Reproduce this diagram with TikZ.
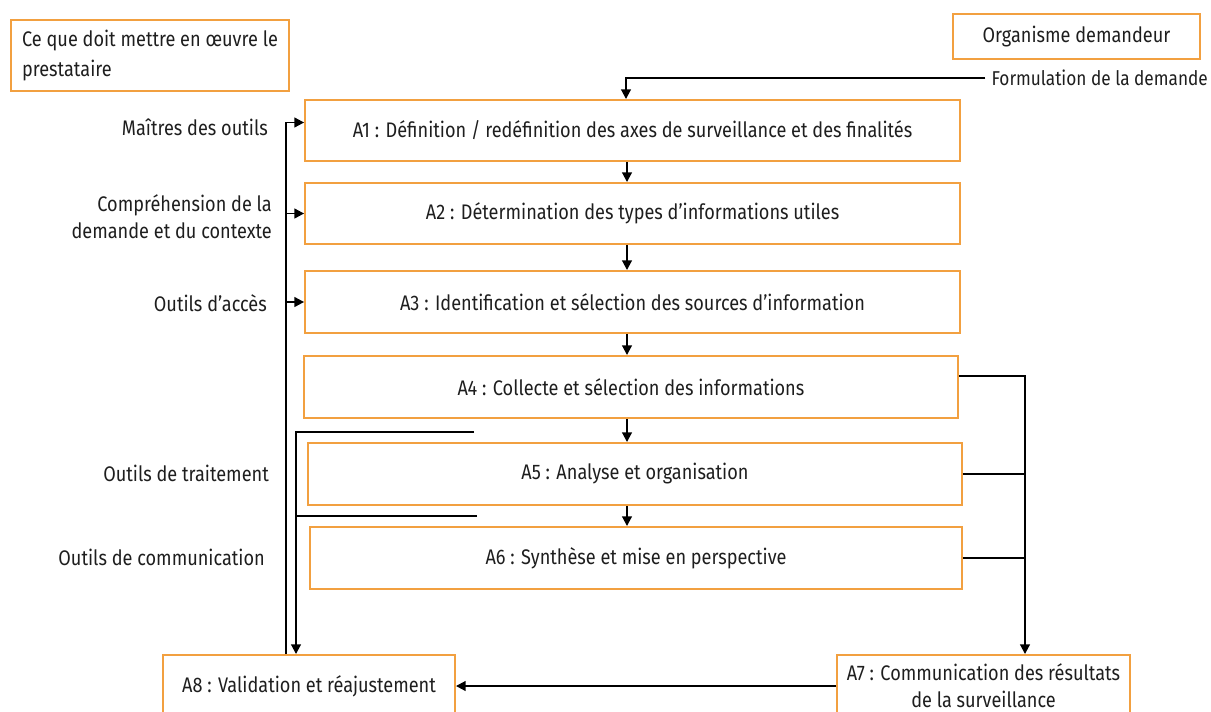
\documentclass[tikz,border=0pt]{standalone}
\usepackage{fontspec}
\setmainfont[FakeStretch=0.86]{Fira Sans}
\usetikzlibrary{calc,arrows.meta}
\definecolor{boxorange}{RGB}{242,160,64}
\definecolor{txtgray}{RGB}{30,30,30}

\begin{document}
\begin{tikzpicture}[x=0.02cm,y=-0.02cm,
    box/.style={draw=boxorange,line width=1.1pt,minimum height=1.22cm,inner sep=0pt,
      text=txtgray,font=\fontsize{12}{15.3}\selectfont},
    lbl/.style={anchor=east,align=right,text=txtgray,font=\fontsize{12}{15.3}\selectfont},
    arr/.style={line width=1.1pt,-{Triangle[length=5.5pt,width=5.5pt]}},
    ln/.style={line width=1.1pt}]
			%%%%% START %%%%%
			\useasboundingbox (0,0) rectangle (1211,711);
			\clip (0,0) rectangle (1211,711);

			% cadres du haut
			\node[box,minimum width=5.56cm,minimum height=1.42cm,align=left,
				font=\fontsize{12}{17}\selectfont] (presta) at (150,55.5) {Ce que doit mettre en œuvre le\\prestataire};
			\node[box,minimum width=4.94cm,minimum height=0.9cm] (orga) at (1076.5,36.5) {Organisme demandeur};
			\node[anchor=east,text=txtgray,font=\fontsize{11.4}{15.3}\selectfont] (formul) at (1214,78) {Formulation de la demande};

			% activites
			\node[box,minimum width=13.1cm] (A1) at (632.5,130.5) {A1 : Définition / redéfinition des axes de surveillance et des finalités};
			\node[box,minimum width=13.1cm] (A2) at (632.5,213.5) {A2 : Détermination des types d’informations utiles};
			\node[box,minimum width=13.1cm,minimum height=1.24cm] (A3) at (632.5,302) {A3 : Identification et sélection des sources d’information};
			\node[box,minimum width=13.08cm,minimum height=1.24cm] (A4) at (631,387) {A4 : Collecte et sélection des informations};
			\node[box,minimum width=13.08cm,minimum height=1.24cm] (A5) at (635,474) {A5 : Analyse et organisation};
			\node[box,minimum width=13.04cm,minimum height=1.24cm] (A6) at (636,558) {A6 : Synthèse et mise en perspective};
			\node[box,minimum width=5.84cm,minimum height=1.24cm] (A8) at (309,686) {A8 : Validation et réajustement};
			\node[box,minimum width=5.86cm,minimum height=1.24cm,align=center] (A7) at (983.5,686) {A7 : Communication des résultats\\de la surveillance};

			% moyens
			\node[lbl] (maitres) at (274,127) {Maîtres des outils};
			\node[lbl] (compr) at (278,216.5) {Compréhension de la\\demande et du contexte};
			\node[lbl] (acces) at (273,303) {Outils d’accès};
			\node[lbl] (traite) at (275,473) {Outils de traitement};
			\node[lbl] (commu) at (271,557) {Outils de communication};

			% reperes
			\coordinate (mid) at (626,0);
			\coordinate (mid2) at (627,0);
			\coordinate (spine) at (286,0);
			\coordinate (back) at (296,0);
			\coordinate (coll) at (1025,0);
			\coordinate (ret1) at (474,432);
			\coordinate (ret2) at (477,516);

			% fleches
			\draw[arr] (formul.west) -| (A1.north -| mid);
			\foreach \a/\b in {A1/A2,A2/A3,A3/A4,A4/A5,A5/A6}
				\draw[arr] (\a.south -| mid2) -- (\b.north -| mid2);

			\draw[arr] (A8.north -| spine) |- ($(A1.west)+(0,-8)$);
			\draw[arr] (A2.west -| spine) -- (A2.west);
			\draw[arr] (A3.west -| spine) -- (A3.west);

			\draw[arr] (ret1) -| (A8.north -| back);
			\draw[ln] (ret2) -- (ret2 -| back);

			\draw[arr] ($(A4.east)+(0,-11)$) -| (A7.north -| coll);
			\draw[ln] (A5.east) -- (A5.east -| coll);
			\draw[ln] (A6.east) -- (A6.east -| coll);

			\draw[arr] (A7.west) -- (A8.east);
			%%%%% END %%%%%
\end{tikzpicture}
\end{document}
